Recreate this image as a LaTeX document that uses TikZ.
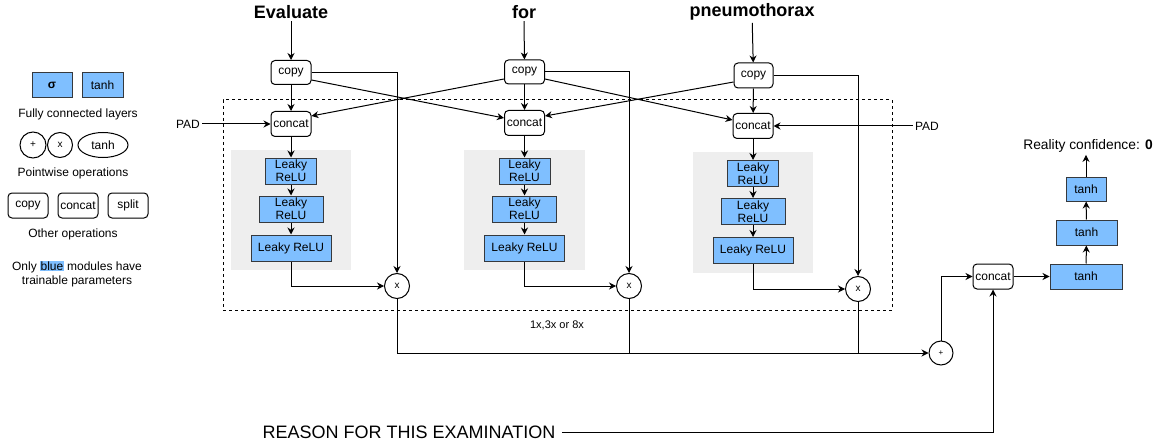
\documentclass[tikz,border=0pt]{standalone}
\usepackage{fontspec}
\setmainfont{Liberation Sans}
\usepackage{xcolor}
\definecolor{FC-blue}{RGB}{127, 191, 255}
\definecolor{FC-border}{RGB}{54, 57, 61}
\definecolor{Panel-gray}{RGB}{238, 238, 238}
\usetikzlibrary{arrows.meta,shapes.geometric,positioning,calc}

\begin{document}
\begin{tikzpicture} [
    x=1pt, y=-1pt, line width=1pt, >={Stealth[length=7pt,width=7pt]},
    font=\fontsize{12}{13}\selectfont,
    fc/.style = {rectangle,draw=FC-border,fill=FC-blue,minimum height=25,inner sep=0},
    lrelu/.style = {fc,align=center,minimum height=26},
    plain/.style = {draw=none,inner sep=2},
    roundbox/.style = {rectangle,rounded corners=4,draw=black,fill=white,minimum height=24,minimum width=40,inner sep=0},
    op/.style = {circle,draw=black,fill=white,minimum size=25,inner sep=0,font=\fontsize{10}{12}\selectfont},
    panel/.style = {rectangle,draw=none,fill=Panel-gray,minimum width=120,minimum height=120},
    word/.style = {plain,font=\fontsize{18}{20}\selectfont\bfseries}
    ]

    \useasboundingbox (0,0) rectangle (1159,441);

    % legend
    \node (lsig) [fc,minimum width=40] at (52,85) {\textbf{σ}};
    \node (ltanh) [fc,minimum width=41] at (102.5,85) {tanh};
    \node (lfc) [plain] at (78,114) {Fully connected layers};
    \node (lplus) [op,minimum size=26] at (33,145) {+};
    \node (lmul) [op] at (60,145) {x};
    \node (ltanhop) [ellipse,draw,minimum width=50,minimum height=25,inner sep=0] at (103,145) {tanh};
    \node (lpw) [plain] at (73,173) {Pointwise operations};
    \node (lcopy) [roundbox,minimum height=25] at (28,205.5) {copy};
    \node (lconcat) [roundbox,minimum height=25] at (78,205.5) {concat};
    \node (lsplit) [roundbox,minimum height=25] at (128,205.5) {split};
    \node (lother) [plain] at (73,234) {Other operations};
    \node (lnote) [plain,align=center,font=\fontsize{12}{14}\selectfont] at (77,274)
        {Only {\fboxsep=0.5pt\colorbox{FC-blue}{blue}} modules have\\trainable parameters};

    % repeated block
    \node (rep) [rectangle,draw,dashed,dash pattern=on 3pt off 3pt,minimum width=669,minimum height=210] at (557.5,205) {};
    \node (times) [plain,font=\fontsize{11}{13}\selectfont] at (557,325) {1x,3x or 8x};

    \node (g1) [panel] at (291,210) {};
    \node (g2) [panel,minimum width=121] at (524.5,210) {};
    \node (g3) [panel] at (753,212.5) {};

    \node (w1) [word] at (291,12) {Evaluate};
    \node (w2) [word] at (524,12) {for};
    \node (w3) [word] at (752,12) {pneumothorax};

    \node (c1) [roundbox] at (291,72.5) {copy};
    \node (c2) [roundbox] at (524.5,72) {copy};
    \node (c3) [roundbox,minimum width=39,minimum height=25] at (753.5,75.5) {copy};

    \node (k1) [roundbox,minimum height=25] at (291,124) {concat};
    \node (k2) [roundbox,minimum height=25] at (524.5,123) {concat};
    \node (k3) [roundbox,minimum height=25] at (753,126) {concat};

    \node (padl) [plain] at (188,124) {PAD};
    \node (padr) [plain] at (927,126) {PAD};

    \node (ra1) [lrelu,minimum width=51] at (291,171) {Leaky\\ReLU};
    \node (rb1) [lrelu,minimum width=64] at (291,209) {Leaky\\ReLU};
    \node (rc1) [fc,minimum width=80,minimum height=26] at (291,248) {Leaky ReLU};

    \node (ra2) [lrelu,minimum width=51] at (524.5,171) {Leaky\\ReLU};
    \node (rb2) [lrelu,minimum width=64] at (524.5,209) {Leaky\\ReLU};
    \node (rc2) [fc,minimum width=80,minimum height=26] at (524.5,248) {Leaky ReLU};

    \node (ra3) [lrelu,minimum width=51] at (753,173.5) {Leaky\\ReLU};
    \node (rb3) [lrelu,minimum width=64] at (753,211.5) {Leaky\\ReLU};
    \node (rc3) [fc,minimum width=80,minimum height=26] at (753,250.5) {Leaky ReLU};

    \node (m1) [op] at (397,286) {x};
    \node (m2) [op] at (629,286) {x};
    \node (m3) [op] at (858,289) {x};

    % merge and output
    \node (p) [op,minimum size=24,font=\fontsize{8}{10}\selectfont] at (941,353) {+};
    \node (k4) [roundbox,minimum height=25] at (993,276.5) {concat};
    \node (reason) [plain,inner sep=6,font=\fontsize{18}{20}\selectfont] at (409,432) {REASON FOR THIS EXAMINATION};

    \node (t1) [fc,minimum width=72] at (1086,276.5) {tanh};
    \node (t2) [fc,minimum width=61] at (1086.5,232.5) {tanh};
    \node (t3) [fc,minimum width=40,minimum height=24] at (1086,189) {tanh};
    \node (out) [plain,font=\fontsize{13.8}{15}\selectfont] at (1088,146) {Reality confidence: \textbf{0}};

    \foreach \i in {1,2,3}
        {
            \draw[->] (w\i) -- (c\i);
            \draw[->] (c\i) -- (k\i);
            \draw[->] (k\i) -- (ra\i);
            \draw[->] (ra\i) -- (rb\i);
            \draw[->] (rb\i) -- (rc\i);
            \draw[->] (rc\i) |- (m\i);
            \draw[->] (c\i) -| (m\i);
        }

    \draw[->] ($(c1.east)+(0,7.5)$) -- ($(k2.west)+(0,-5)$);
    \draw[->] ($(c2.west)+(0,7)$) -- ($(k1.east)+(0,-8)$);
    \draw[->] ($(c2.east)+(0,7)$) -- ($(k3.west)+(0,-6)$);
    \draw[->] ($(c3.west)+(0,6.5)$) -- ($(k2.east)+(0,-7)$);

    \draw[->] (padl) -- (k1);
    \draw[->] (padr) -- (k3);

    \draw[->] (m1) |- (p);
    \draw (m2) -- (m2 |- p);
    \draw (m3) -- (m3 |- p);

    \draw[->] (p) |- (k4);
    \draw[->] (reason) -| (k4);
    \draw[->] (k4) -- (t1);
    \draw[->] (t1) -- (t2);
    \draw[->] (t2) -- (t3);
    \draw[->] (t3.north) -- (t3.north |- out.south);

\end{tikzpicture}
\end{document}
